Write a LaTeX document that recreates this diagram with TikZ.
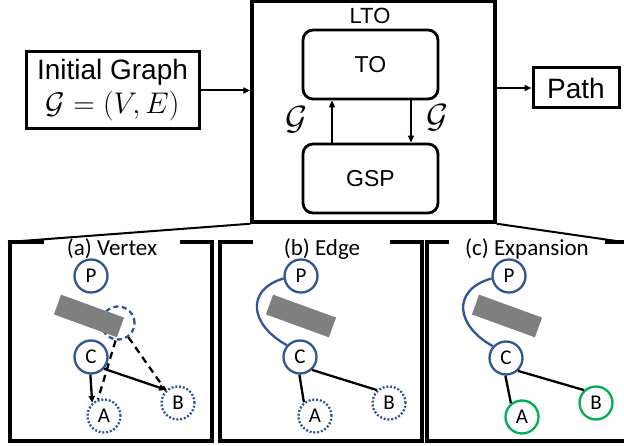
\documentclass[tikz,border=0pt]{standalone}
\usepackage{amsmath}
\usepackage{fontspec}
\setmainfont{Liberation Sans}
\newfontfamily\calibri{Carlito}
\usetikzlibrary{arrows.meta}

\definecolor{nodeblue}{RGB}{47,85,151}
\definecolor{nodegreen}{RGB}{0,176,80}
\definecolor{wallgray}{RGB}{127,127,127}

\tikzset{
  block/.style={draw, line width=3pt, inner sep=0pt},
  module/.style={draw, line width=2.8pt, rounded corners=10pt,
    minimum width=135pt, minimum height=69pt, font=\fontsize{23}{26}\selectfont},
  flow/.style={-{Triangle[length=7pt,width=6pt]}, line width=2pt},
  panelframe/.style={line width=3.5pt},
  caption/.style={font=\calibri\fontsize{23}{23}\selectfont, inner sep=0pt},
  vtx/.style={circle, draw=nodeblue, line width=2.3pt, minimum size=33pt,
    inner sep=0pt, font=\calibri\fontsize{21}{21}\selectfont},
  frontier/.style={dash pattern=on 2pt off 1.8pt},
  probe/.style={dash pattern=on 5pt off 3.5pt},
  added/.style={draw=nodegreen},
  wall/.style={fill=wallgray, minimum width=67pt, minimum height=21pt,
    inner sep=0pt, rotate=-20},
  link/.style={line width=2.3pt},
  reach/.style={link, -{Triangle[length=7pt,width=6pt]}},
  trial/.style={link, dash pattern=on 7pt off 5pt},
  route/.style={draw=nodeblue, line width=2.3pt}
}

\begin{document}
\begin{tikzpicture}[x=1pt, y=-1pt]
  \clip (0,0) rectangle (624,446);

  % pipeline
  \node[block, minimum width=173pt, minimum height=77pt, align=center,
        font=\fontsize{28}{34}\selectfont] (init) at (112.5,90.5)
        {Initial Graph\\ \scalebox{1.2}{$\mathcal{G}=(V,E)$}};
  \node[draw, line width=3.5pt, minimum width=243pt, minimum height=221pt,
        inner sep=0pt] (lto) at (373.5,111.5) {};
  \node[font=\fontsize{22}{22}\selectfont] at (370,16) {LTO};
  \node[module] (to) at (370.5,64.5) {TO};
  \node[module] (gsp) at (370.5,178.5) {GSP};
  \node[block, minimum width=86pt, minimum height=40pt,
        font=\fontsize{28}{28}\selectfont] (path) at (576,88) {Path};

  \coordinate (upx) at (332,0);
  \coordinate (downx) at (411,0);
  \draw[flow] (gsp.north -| upx) -- (to.south -| upx);
  \draw[flow] (to.south -| downx) -- (gsp.north -| downx);
  \node[font=\fontsize{28}{28}\selectfont] at (296,120) {\scalebox{1.35}{$\mathcal{G}$}};
  \node[font=\fontsize{28}{28}\selectfont] at (437,118) {\scalebox{1.35}{$\mathcal{G}$}};

  \draw[flow] (init.east) -- (lto.west |- init.east);
  \draw[flow] (lto.east |- path.west) -- (path.west);

  % zoom lines to the three panels
  \coordinate (lefttop) at (8,242);
  \coordinate (righttop) at (630,243);
  \draw[line width=2pt] (lto.south west) -- (lefttop);
  \draw[line width=2pt] (lto.south east) -- (righttop);

  % (a) vertex
  \begin{scope}[shift={(10,0)}]
    \draw[panelframe] (34,242) -- (0,242) -- (0,441) -- (202,441) -- (202,242) -- (170,242);
    \node[caption] at (102,249) {(a) Vertex};
    \node[vtx, probe] (na) at (108,323) {};
    \node[wall] (wa) at (79,316) {};
    \node[vtx] (pa) at (81,276) {P};
    \node[vtx] (ca) at (81,357) {C};
    \node[vtx, frontier] (aa) at (94,416) {A};
    \node[vtx, frontier] (ba) at (168,403) {B};
    \draw[reach] (ca.268) -- (aa.132);
    \draw[reach] (ca.318) -- (ba.132);
    \draw[trial] (na.262) -- (aa.110);
    \draw[trial] (na.306) -- (ba.134);
  \end{scope}

  % (b) edge
  \begin{scope}[shift={(220,0)}]
    \draw[panelframe] (33,242) -- (0,242) -- (0,441) -- (202,441) -- (202,242) -- (170,242);
    \node[caption] at (102,249) {(b) Edge};
    \node[wall] (wb) at (81,316) {};
    \node[vtx] (pb) at (81,276) {P};
    \node[vtx] (cb) at (80,357) {C};
    \node[vtx, frontier] (ab) at (95,416) {A};
    \node[vtx, frontier] (bb) at (169,403) {B};
    \draw[route] (pb.188) .. controls (25,290) and (30,325) .. (cb.138);
    \draw[link] (cb.268) -- (ab.129);
    \draw[link] (cb.313) -- (bb.133);
  \end{scope}

  % (c) expansion
  \begin{scope}[shift={(427,0)}]
    \draw[panelframe] (22,242) -- (0,242) -- (0,441) -- (202,441) -- (202,242) -- (178,242);
    \node[caption] at (100,249) {(c) Expansion};
    \node[wall] (wc) at (80,316) {};
    \node[vtx] (pc) at (82,276) {P};
    \node[vtx] (cc) at (79,358) {C};
    \node[vtx, added] (ac) at (95,417) {A};
    \node[vtx, added] (bc) at (169,403) {B};
    \draw[route] (pc.188) .. controls (24,290) and (29,326) .. (cc.138);
    \draw[link] (cc.268) -- (ac.129);
    \draw[link] (cc.313) -- (bc.133);
  \end{scope}
\end{tikzpicture}
\end{document}
